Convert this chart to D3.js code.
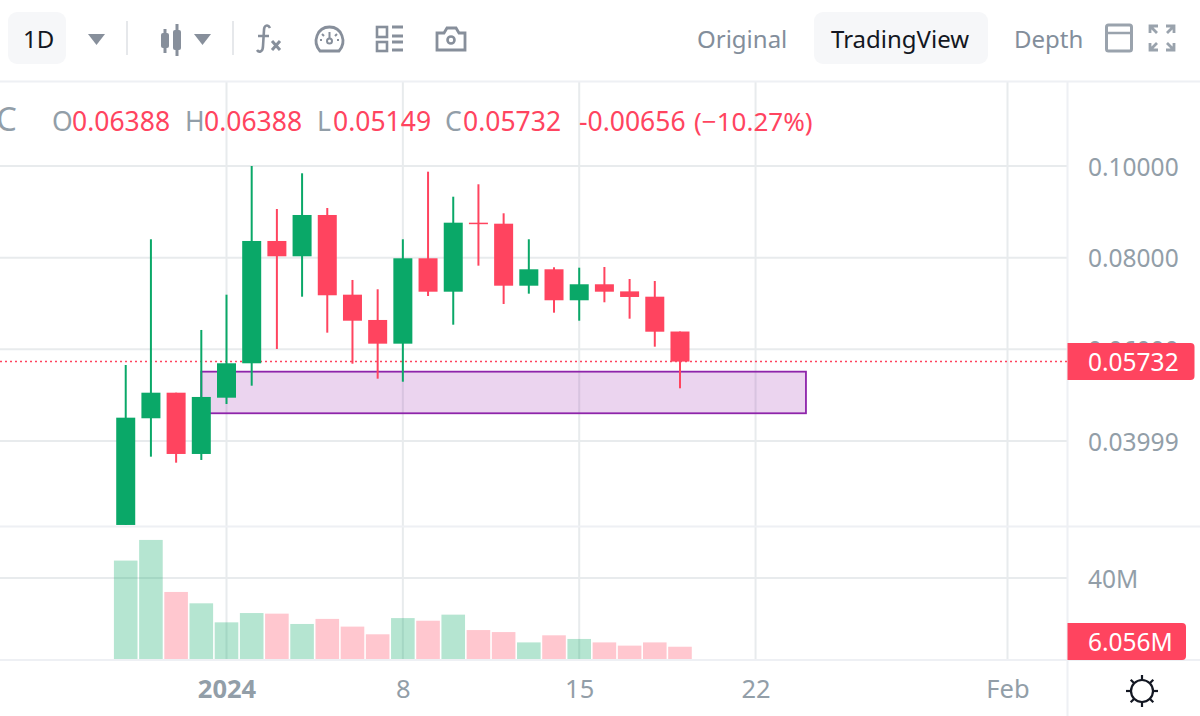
<!DOCTYPE html>
<html>
<head>
<meta charset="utf-8">
<script src="https://cdn.jsdelivr.net/npm/d3@7"></script>
<style>
html, body { margin: 0; padding: 0; background: #fff; overflow: hidden; }
text { font-family: "Noto Sans", sans-serif; }
</style>
</head>
<body>
<svg id="chart" width="1200" height="716"></svg>
<script>
const dates = ['2023-12-28','2023-12-29','2023-12-30','2023-12-31','2024-01-01','2024-01-02','2024-01-03','2024-01-04',
    '2024-01-05','2024-01-06','2024-01-07','2024-01-08','2024-01-09','2024-01-10','2024-01-11','2024-01-12',
    '2024-01-13','2024-01-14','2024-01-15','2024-01-16','2024-01-17','2024-01-18','2024-01-19'];
const opens = [.02167,.04495,.05053,.03716,.04944,.05695,.08364,.08030,.08931,.07192,.06640,.06123,.07986,.07257,.08763,.08741,.07388,.07746,.07070,.07419,.07264,.07148,.06388];
const highs = [.05658,.08401,.05053,.06422,.07192,.10000,.09062,.09841,.09084,.07513,.07310,.08401,.09876,.09330,.09601,.08968,.08401,.07790,.07781,.07796,.07534,.07491,.06388];
const lows = [.02167,.03657,.03526,.03585,.04807,.05206,.06007,.07148,.06363,.05686,.05359,.05293,.07163,.06537,.07825,.06989,.07214,.06799,.06624,.07026,.06668,.06057,.05149];
const closes = [.04508,.05053,.03716,.04960,.05695,.08364,.08030,.08931,.07179,.06624,.06123,.07986,.07257,.08763,.08734,.07388,.07746,.07070,.07419,.07257,.07142,.06384,.05732];
const volumes = [48.6,58.8,33.1,27.5,18.1,22.7,22.4,17.3,19.8,16.0,12.2,20.2,18.9,21.9,14.3,13.3,8.2,11.7,9.9,8.2,6.6,8.2,6.056];

const priceTicks = [0.1, 0.08, 0.06, 0.03999];
const priceLabels = ['0.10000', '0.08000', '0.06000', '0.03999'];
const volumeTicks = [40];
const timeTicks = ['2024-01-01', '2024-01-08', '2024-01-15', '2024-01-22', '2024-02-01'];
const timeLabels = ['2024', '8', '15', '22', 'Feb'];

const lastPrice = 0.05732;
const lastVolume = 6.056;
const zone = { start: '2023-12-31', end: '2024-01-24', top: 0.05512, bottom: 0.04604 };

const legend = [
    ['O', 52, '0.06388', 72], ['H', 185, '0.06388', 204], ['L', 317, '0.05149', 333], ['C', 445, '0.05732', 463]
];

const green = '#0aa868', red = '#ff445f', gray = '#929ea8', grid = '#e8ebed', border = '#eef0f4', icon = '#878f9b';
const axisX = 1067.5, paneBottom = 526.5, volBottom = 660;

const svg = d3.select('#chart');
const date = s => new Date(s + 'T00:00:00Z');

const x = d3.scaleUtc().domain([date('2024-01-01'), date('2024-02-01')]).range([226.5, 1007.5]);
const y = d3.scaleLinear().domain([0.1, 0.03999]).range([166, 441]);
const yVol = d3.scaleLinear().domain([0, 40]).range([659, 578]);

const rows = dates.map((d, i) => ({
    date: date(d), open: opens[i], high: highs[i], low: lows[i], close: closes[i], volume: volumes[i],
    up: closes[i] >= opens[i]
}));

// grid
svg.append('g').selectAll('line').data(priceTicks).enter().append('line')
    .attr('x1', 0).attr('x2', axisX).attr('y1', d => y(d)).attr('y2', d => y(d))
    .attr('stroke', grid).attr('stroke-width', 2);
svg.append('g').selectAll('line').data(volumeTicks).enter().append('line')
    .attr('x1', 0).attr('x2', axisX).attr('y1', d => yVol(d)).attr('y2', d => yVol(d))
    .attr('stroke', grid).attr('stroke-width', 2);
svg.append('g').selectAll('line').data(timeTicks).enter().append('line')
    .attr('x1', d => x(date(d))).attr('x2', d => x(date(d))).attr('y1', 82).attr('y2', volBottom)
    .attr('stroke', grid).attr('stroke-width', 2);

// pane borders
[[0, 81.5, 1200, 81.5], [0, paneBottom, 1200, paneBottom], [0, volBottom, 1200, volBottom], [axisX, 82, axisX, 716]]
    .forEach(l => svg.append('line').attr('x1', l[0]).attr('y1', l[1]).attr('x2', l[2]).attr('y2', l[3])
        .attr('stroke', border).attr('stroke-width', 2));

// volume
svg.append('g').selectAll('rect').data(rows).enter().append('rect')
    .attr('x', d => x(d.date) - 11.8).attr('width', 23.6)
    .attr('y', d => yVol(d.volume)).attr('height', d => yVol(0) - yVol(d.volume))
    .attr('fill', d => d.up ? green : red).attr('fill-opacity', 0.3);

// last price line
svg.append('line').attr('x1', 0).attr('x2', axisX).attr('y1', y(lastPrice)).attr('y2', y(lastPrice))
    .attr('stroke', red).attr('stroke-width', 1.5).attr('stroke-dasharray', '2 3');

// purple zone
svg.append('rect')
    .attr('x', x(date(zone.start))).attr('width', x(date(zone.end)) - x(date(zone.start)))
    .attr('y', y(zone.top)).attr('height', y(zone.bottom) - y(zone.top))
    .attr('fill', '#9c27b0').attr('fill-opacity', 0.2)
    .attr('stroke', '#8e24aa').attr('stroke-width', 1.8);

// candles
const candle = svg.append('g').selectAll('g').data(rows).enter().append('g')
    .attr('fill', d => d.up ? green : red).attr('stroke', d => d.up ? green : red);
candle.append('line')
    .attr('x1', d => x(d.date)).attr('x2', d => x(d.date))
    .attr('y1', d => y(d.high)).attr('y2', d => y(d.low))
    .attr('stroke-width', 2);
candle.append('rect')
    .attr('x', d => x(d.date) - 9.5).attr('width', 19)
    .attr('y', d => y(Math.max(d.open, d.close)))
    .attr('height', d => Math.max(1.5, Math.abs(y(d.open) - y(d.close))))
    .attr('stroke', 'none');

// axes
const styleAxis = (g, size) => {
    g.select('.domain').remove();
    g.selectAll('text').attr('fill', gray).style('font-size', size + 'px').style('font-family', '"Noto Sans", sans-serif');
};
svg.append('g').attr('transform', 'translate(1088,1.5)')
    .call(d3.axisRight(y).tickValues(priceTicks).tickSize(0).tickPadding(0).tickFormat((d, i) => priceLabels[i]))
    .call(styleAxis, 24.5);
svg.append('g').attr('transform', 'translate(1088,2)')
    .call(d3.axisRight(yVol).tickValues(volumeTicks).tickSize(0).tickPadding(0).tickFormat(d => d + 'M'))
    .call(styleAxis, 24.5);
svg.append('g').attr('transform', 'translate(0,680)')
    .call(d3.axisBottom(x).tickValues(timeTicks.map(date)).tickSize(0).tickPadding(0).tickFormat((d, i) => timeLabels[i]))
    .call(styleAxis, 25.5)
    .selectAll('text').style('font-weight', (d, i) => i === 0 ? 700 : 400);

// last value labels
const tag = (yMid, h, right, label) => {
    svg.append('path')
        .attr('d', `M${axisX},${yMid - h / 2}H${right - 4}a4,4 0 0 1 4,4V${yMid + h / 2 - 4}a4,4 0 0 1 -4,4H${axisX}Z`)
        .attr('fill', red);
    svg.append('text').attr('x', 1088).attr('y', yMid + 0.5).attr('dy', '0.35em')
        .attr('fill', '#fff').attr('font-size', 24.5).text(label);
};
tag(361.5, 37, 1194.5, d3.format('.5f')(lastPrice));
tag(641.5, 37, 1186, lastVolume.toFixed(3) + 'M');

// legend line
const legendY = 131;
svg.append('text').attr('x', -4).attr('y', legendY).attr('font-size', 33).attr('fill', gray).text('C');
legend.forEach(l => {
    svg.append('text').attr('x', l[1]).attr('y', legendY).attr('font-size', 26.5).attr('fill', gray).text(l[0]);
    svg.append('text').attr('x', l[3]).attr('y', legendY).attr('font-size', 26.5).attr('fill', red).text(l[2]);
});
svg.append('text').attr('x', 579).attr('y', legendY).attr('font-size', 26.5).attr('fill', red).text('-0.00656');
svg.append('text').attr('x', 694).attr('y', legendY).attr('font-size', 26).attr('fill', red).text('(−10.27%)');

// toolbar
const pill = (px, w) => svg.append('rect').attr('x', px).attr('y', 12).attr('width', w).attr('height', 52).attr('rx', 9).attr('fill', '#f6f7f9');
pill(8, 58);
pill(814, 174);
const label = (px, text, fill) => svg.append('text').attr('x', px).attr('y', 48).attr('font-size', 24).attr('fill', fill).text(text);
label(23, '1D', '#131722');
label(697, 'Original', '#838e9b');
label(831, 'TradingView', '#131722');
label(1014, 'Depth', '#838e9b');

const tb = svg.append('g').attr('fill', 'none').attr('stroke', icon).attr('stroke-width', 2.6);
tb.append('path').attr('d', 'M88,34H105L96.5,45Z').attr('fill', icon).attr('stroke', 'none');
tb.append('path').attr('d', 'M194,34H211L202.5,45Z').attr('fill', icon).attr('stroke', 'none');
tb.append('path').attr('d', 'M127,21V55M233,21V55').attr('stroke', '#e6e8eb').attr('stroke-width', 2);
// candlestick icon
tb.append('path').attr('d', 'M165,29V53M177,24V56').attr('stroke-width', 3);
tb.append('rect').attr('x', 161).attr('y', 33).attr('width', 8).attr('height', 15).attr('rx', 2).attr('fill', icon).attr('stroke', 'none');
tb.append('rect').attr('x', 173).attr('y', 30).attr('width', 8).attr('height', 20).attr('rx', 2).attr('fill', icon).attr('stroke', 'none');
// fx
tb.append('path').attr('d', 'M270,28C268,24 264,25 264,30L263,46C263,52 259,53 257,50M258,36H269');
tb.append('path').attr('d', 'M272,41L280,50M280,41L272,50').attr('stroke-width', 3);
// gauge
tb.append('path').attr('d', 'M320,51C312,42 317,27 329.5,27C342,27 347,42 339,51Z').attr('stroke-width', 2.8);
tb.append('circle').attr('cx', 329.5).attr('cy', 41).attr('r', 2.5).attr('stroke-width', 2);
tb.append('path').attr('d', 'M329.5,38V32M322,34L324,36M337,34L335,36M320,40H322M339,40H337').attr('stroke-width', 2);
// list
tb.append('rect').attr('x', 377).attr('y', 27).attr('width', 10).attr('height', 10);
tb.append('rect').attr('x', 377).attr('y', 42).attr('width', 10).attr('height', 9);
tb.append('path').attr('d', 'M392,27H403M392,36H403M392,42H403M392,50H403').attr('stroke-width', 3);
// camera
tb.append('path').attr('d', 'M437,33H444L447,28H456L459,33H465V50H437Z').attr('stroke-width', 2.8);
tb.append('circle').attr('cx', 451).attr('cy', 40).attr('r', 3.5);
// window
tb.append('rect').attr('x', 1106.5).attr('y', 25).attr('width', 25).attr('height', 26).attr('rx', 2).attr('stroke', '#9aa3ad').attr('stroke-width', 3);
tb.append('path').attr('d', 'M1106,33H1132').attr('stroke', '#9aa3ad').attr('stroke-width', 2.5);
// expand
tb.append('path').attr('d', 'M1150,33V26H1158M1166,26H1174V33M1150,43V50H1158M1166,50H1174V43M1151,27L1157,33M1173,27L1167,33M1151,49L1157,43M1173,49L1167,43')
    .attr('stroke', '#9aa3ad').attr('stroke-width', 2.8);
// sun
const sun = svg.append('g').attr('transform', 'translate(1142,691)').attr('fill', 'none').attr('stroke', '#131722').attr('stroke-width', 2.2);
sun.append('circle').attr('r', 11);
d3.range(8).forEach(i => {
    const a = i * Math.PI / 4;
    sun.append('line').attr('x1', 11 * Math.cos(a)).attr('y1', 11 * Math.sin(a))
        .attr('x2', 16 * Math.cos(a)).attr('y2', 16 * Math.sin(a));
});
</script>
</body>
</html>
